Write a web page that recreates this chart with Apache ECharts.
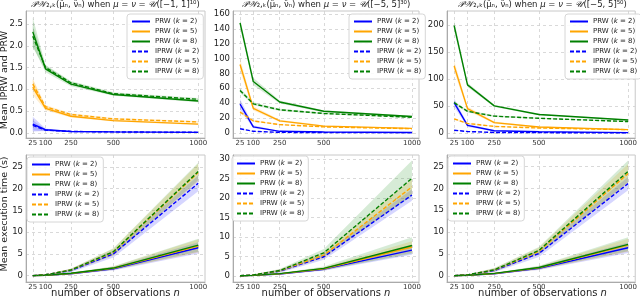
<!DOCTYPE html>
<html><head><meta charset="utf-8">
<script src="https://cdn.jsdelivr.net/npm/echarts@6/dist/echarts.min.js"></script>
<style>html,body{margin:0;padding:0;background:#fff}#c{width:640px;height:298px}</style>
</head><body><div id="c"></div>
<script>
// ---------- data ----------
const nObs = [25, 100, 250, 500, 1000];
const xTickVals = [25, 100, 250, 500, 1000];
const names = ['PRW (k = 2)', 'PRW (k = 5)', 'PRW (k = 8)', 'IPRW (k = 2)', 'IPRW (k = 5)', 'IPRW (k = 8)'];
const titles = ['[−1, 1]¹⁰', '[−5, 5]³⁰', '[−5, 5]⁵⁰'];

// panel 1: mean distance, U([-1,1]^10)
const p1_prw2 = [0.20, 0.07, 0.03, 0.02, 0.01];
const p1_prw5 = [1.05, 0.56, 0.38, 0.28, 0.20];
const p1_prw8 = [2.32, 1.47, 1.12, 0.88, 0.73];
const p1_iprw2 = [0.17, 0.06, 0.03, 0.02, 0.01];
const p1_iprw5 = [1.12, 0.60, 0.42, 0.32, 0.25];
const p1_iprw8 = [2.22, 1.50, 1.15, 0.90, 0.77];
const p1_prw2_sd = [0.17, 0.03, 0.01, 0.01, 0.005];
const p1_prw5_sd = [0.18, 0.05, 0.03, 0.02, 0.02];
const p1_prw8_sd = [0.33, 0.08, 0.05, 0.03, 0.03];
const p1_iprw2_sd = [0.12, 0.02, 0.01, 0.01, 0.005];
const p1_iprw5_sd = [0.12, 0.04, 0.03, 0.02, 0.02];
const p1_iprw8_sd = [0.25, 0.06, 0.04, 0.03, 0.03];

// panel 2: mean distance, U([-5,5]^30)
const p2_prw2 = [38.5, 8, 2, 1, 0.5];
const p2_prw5 = [92, 33, 16, 9, 6];
const p2_prw8 = [148, 69, 41.5, 29, 22];
const p2_iprw2 = [5.5, 2, 0.6, 0.3, 0.2];
const p2_iprw5 = [28, 16, 11, 8, 5.5];
const p2_iprw8 = [57, 39, 31, 26, 21];
const p2_prw2_sd = [7, 2, 0.5, 0.3, 0.2];
const p2_prw5_sd = [8, 3, 1.5, 1, 0.5];
const p2_prw8_sd = [6, 5, 2, 1.5, 1];
const p2_iprw2_sd = [1, 0.5, 0.2, 0.1, 0.1];
const p2_iprw5_sd = [2, 1, 0.7, 0.5, 0.4];
const p2_iprw8_sd = [3, 2, 1.5, 1, 1];

// panel 3: mean distance, U([-5,5]^50)
const p3_prw2 = [56, 14, 4, 2, 0.5];
const p3_prw5 = [124, 45, 19, 11, 6];
const p3_prw8 = [199, 89, 50, 34, 24];
const p3_iprw2 = [5, 2.5, 0.8, 0.4, 0.2];
const p3_iprw5 = [26, 17.5, 12, 9, 6];
const p3_iprw8 = [56, 40, 31, 27, 21];
const p3_prw2_sd = [8, 3, 1, 0.5, 0.2];
const p3_prw5_sd = [10, 4, 2, 1, 0.5];
const p3_prw8_sd = [10, 4, 2, 1.5, 1];
const p3_iprw2_sd = [1, 0.5, 0.2, 0.1, 0.1];
const p3_iprw5_sd = [2, 1, 0.7, 0.5, 0.4];
const p3_iprw8_sd = [3, 2, 1.5, 1, 1];

// panel 4: execution time (s), col 1
const p4_prw2 = [0.02, 0.1, 0.45, 1.6, 6.4];
const p4_prw5 = [0.02, 0.1, 0.5, 1.7, 6.8];
const p4_prw8 = [0.02, 0.1, 0.55, 1.75, 7.0];
const p4_iprw2 = [0.02, 0.2, 1.2, 5.0, 21.2];
const p4_iprw5 = [0.02, 0.2, 1.3, 5.4, 23.7];
const p4_iprw8 = [0.02, 0.2, 1.3, 5.5, 23.9];
const p4_prw2_sd = [0.01, 0.03, 0.1, 0.4, 1.3];
const p4_prw5_sd = [0.01, 0.03, 0.1, 0.4, 1.5];
const p4_prw8_sd = [0.01, 0.03, 0.1, 0.4, 1.5];
const p4_iprw2_sd = [0.01, 0.1, 0.4, 0.8, 1.8];
const p4_iprw5_sd = [0.01, 0.1, 0.3, 0.8, 2.0];
const p4_iprw8_sd = [0.01, 0.1, 0.3, 0.8, 2.0];

// panel 5: execution time (s), col 2
const p5_prw2 = [0.02, 0.1, 0.45, 1.7, 6.6];
const p5_prw5 = [0.02, 0.1, 0.5, 1.8, 7.4];
const p5_prw8 = [0.02, 0.1, 0.55, 1.9, 7.8];
const p5_iprw2 = [0.02, 0.2, 1.2, 4.9, 20.8];
const p5_iprw5 = [0.02, 0.2, 1.3, 5.3, 22.9];
const p5_iprw8 = [0.02, 0.2, 1.35, 5.9, 25.1];
const p5_prw2_sd = [0.01, 0.03, 0.1, 0.4, 1.2];
const p5_prw5_sd = [0.01, 0.03, 0.1, 0.4, 1.5];
const p5_prw8_sd = [0.01, 0.03, 0.1, 0.5, 2.1];
const p5_iprw2_sd = [0.01, 0.1, 0.4, 0.8, 1.5];
const p5_iprw5_sd = [0.01, 0.1, 0.4, 0.8, 2.0];
const p5_iprw8_sd = [0.01, 0.1, 0.4, 1.0, 4.6];

// panel 6: execution time (s), col 3
const p6_prw2 = [0.02, 0.1, 0.45, 1.7, 6.4];
const p6_prw5 = [0.02, 0.1, 0.5, 1.8, 7.0];
const p6_prw8 = [0.02, 0.1, 0.55, 1.9, 7.2];
const p6_iprw2 = [0.02, 0.2, 1.2, 5.1, 21.1];
const p6_iprw5 = [0.02, 0.2, 1.3, 5.6, 23.4];
const p6_iprw8 = [0.02, 0.2, 1.35, 5.8, 23.9];
const p6_prw2_sd = [0.01, 0.03, 0.1, 0.4, 1.2];
const p6_prw5_sd = [0.01, 0.03, 0.1, 0.4, 1.5];
const p6_prw8_sd = [0.01, 0.03, 0.1, 0.4, 1.6];
const p6_iprw2_sd = [0.01, 0.1, 0.4, 0.8, 1.5];
const p6_iprw5_sd = [0.01, 0.1, 0.4, 0.8, 2.2];
const p6_iprw8_sd = [0.01, 0.1, 0.4, 0.8, 2.5];

const yTicks1 = [0, 0.5, 1.0, 1.5, 2.0, 2.5];
const yTicks2 = [0, 20, 40, 60, 80, 100, 120, 140, 160];
const yTicks3 = [0, 50, 100, 150, 200];
const yTicks4 = [0, 5, 10, 15, 20, 25];
const yTicks5 = [0, 5, 10, 15, 20, 25, 30];
const yTicks6 = [0, 5, 10, 15, 20, 25];

// ---------- layout ----------
const FONT = 'DejaVu Sans';
const cols = [{left: 26, width: 179}, {left: 233, width: 186}, {left: 447, width: 191}];
const rows = [{top: 11, height: 127}, {top: 155, height: 127}];
const yRanges = [[-0.12, 2.8], [-7, 164], [-9.5, 226], [-1.45, 27.7], [-1.6, 31.1], [-1.43, 27.65]];
const yTickSets = [yTicks1, yTicks2, yTicks3, yTicks4, yTicks5, yTicks6];
const panels = [
  [p1_prw2, p1_prw5, p1_prw8, p1_iprw2, p1_iprw5, p1_iprw8, p1_prw2_sd, p1_prw5_sd, p1_prw8_sd, p1_iprw2_sd, p1_iprw5_sd, p1_iprw8_sd],
  [p2_prw2, p2_prw5, p2_prw8, p2_iprw2, p2_iprw5, p2_iprw8, p2_prw2_sd, p2_prw5_sd, p2_prw8_sd, p2_iprw2_sd, p2_iprw5_sd, p2_iprw8_sd],
  [p3_prw2, p3_prw5, p3_prw8, p3_iprw2, p3_iprw5, p3_iprw8, p3_prw2_sd, p3_prw5_sd, p3_prw8_sd, p3_iprw2_sd, p3_iprw5_sd, p3_iprw8_sd],
  [p4_prw2, p4_prw5, p4_prw8, p4_iprw2, p4_iprw5, p4_iprw8, p4_prw2_sd, p4_prw5_sd, p4_prw8_sd, p4_iprw2_sd, p4_iprw5_sd, p4_iprw8_sd],
  [p5_prw2, p5_prw5, p5_prw8, p5_iprw2, p5_iprw5, p5_iprw8, p5_prw2_sd, p5_prw5_sd, p5_prw8_sd, p5_iprw2_sd, p5_iprw5_sd, p5_iprw8_sd],
  [p6_prw2, p6_prw5, p6_prw8, p6_iprw2, p6_iprw5, p6_iprw8, p6_prw2_sd, p6_prw5_sd, p6_prw8_sd, p6_iprw2_sd, p6_iprw5_sd, p6_iprw8_sd]
];
const colors = ['#0000ff', '#ffa500', '#008000'];
const bandColors = ['rgba(0,0,255,0.16)', 'rgba(255,165,0,0.18)', 'rgba(0,128,0,0.16)'];
const legendPos = [
  {left: 127, top: 14}, {left: 349, top: 14}, {left: 565, top: 14},
  {left: 27, top: 157}, {left: 232, top: 156}, {left: 448, top: 156}
];

function fmtOneDecimal(v) { return Number(v).toFixed(1); }
function fmtPlain(v) { return String(Math.round(Number(v) * 100) / 100); }

const grids = [], xAxes = [], yAxes = [], series = [], legends = [];
for (let p = 0; p < 6; p++) {
  const c = cols[p % 3], r = rows[Math.floor(p / 3)];
  grids.push({left: c.left, top: r.top, width: c.width, height: r.height, show: true,
    borderColor: '#c8c8c8', borderWidth: 1, backgroundColor: 'transparent'});
  xAxes.push({type: 'value', gridIndex: p, min: -15, max: 1040,
    axisLine: {show: true, onZero: false, lineStyle: {color: '#aaa', width: 1}},
    axisTick: {show: false, customValues: xTickVals},
    splitLine: {show: true, lineStyle: {color: '#d0d0d0', type: [3, 3], width: 0.8}},
    axisLabel: {customValues: xTickVals, fontSize: 7, color: '#333', margin: 2, fontFamily: FONT,
      formatter: fmtPlain}});
  const yt = yTickSets[p];
  yAxes.push({type: 'value', gridIndex: p, min: yRanges[p][0], max: yRanges[p][1],
    axisLine: {show: true, onZero: false, lineStyle: {color: '#aaa', width: 1}},
    axisTick: {show: false, customValues: yt},
    splitLine: {show: true, lineStyle: {color: '#d0d0d0', type: [3, 3], width: 0.8}},
    axisLabel: {show: true, customValues: yt, fontSize: 8.5, color: '#222', margin: 3, fontFamily: FONT,
      formatter: p === 0 ? fmtOneDecimal : fmtPlain}});
  const d = panels[p];
  // shaded bands (mean ± spread), drawn through the axis scales
  for (let s = 0; s < 6; s++) {
    const mean = d[s], sd = d[s + 6], fill = bandColors[s % 3];
    series.push({type: 'custom', xAxisIndex: p, yAxisIndex: p, silent: true, z: 1, clip: true,
      data: [[nObs[0], mean[0]]],
      renderItem: (params, api) => {
        const up = nObs.map((x, i) => api.coord([x, mean[i] + sd[i]]));
        const lo = nObs.map((x, i) => api.coord([x, mean[i] - sd[i]])).reverse();
        return {type: 'polygon', shape: {points: up.concat(lo)}, style: {fill: fill, stroke: null}};
      }});
  }
  // mean lines
  for (let s = 0; s < 6; s++) {
    const col = colors[s % 3];
    const dashed = s >= 3;
    series.push({type: 'line', name: names[s], xAxisIndex: p, yAxisIndex: p,
      data: nObs.map((x, i) => [x, d[s][i]]), symbol: 'none', silent: true,
      lineStyle: {color: col, width: 1.4, type: dashed ? [4, 2] : 'solid'},
      itemStyle: {color: col}, z: dashed ? 4 : 3});
  }
  legends.push({orient: 'vertical', left: legendPos[p].left, top: legendPos[p].top,
    itemWidth: 18, itemHeight: 8, itemGap: 3, itemTextGap: 5, padding: [4, 4, 4, 4],
    backgroundColor: 'rgba(255,255,255,0.85)', borderColor: '#d6d6d6', borderWidth: 1, borderRadius: 3,
    data: names, selectedMode: false,
    itemStyle: {opacity: 0, borderWidth: 0},
    formatter: n => n.replace('k', '{i|k}'),
    textStyle: {fontSize: 7, fontFamily: FONT, color: '#222',
      rich: {i: {fontStyle: 'italic', fontSize: 7, fontFamily: FONT, color: '#222'}}}});
}

const graphics = [];
for (let c = 0; c < 3; c++) {
  graphics.push({type: 'text', x: cols[c].left + cols[c].width / 2, y: 5, z: 10,
    style: {text: '{s|𝒫𝒲}₂,ₖ(μ̂ₙ, ν̂ₙ) when {i|μ} = {i|ν} = {s|𝒰}(' + titles[c] + ')',
      rich: {i: {fontStyle: 'italic', fontSize: 8.5, fontFamily: FONT}, s: {fontSize: 8.5, fontFamily: 'DejaVu Serif', fontStyle: 'italic'}},
      fontSize: 8.5, fontFamily: FONT, fill: '#222', align: 'center', verticalAlign: 'middle'}});
  graphics.push({type: 'text', x: cols[c].left + cols[c].width / 2, y: 293, z: 10,
    style: {text: 'number of observations {i|n}', rich: {i: {fontStyle: 'italic', fontSize: 10, fontFamily: FONT}},
      fontSize: 10, fontFamily: FONT, fill: '#222', align: 'center', verticalAlign: 'middle'}});
}
graphics.push({type: 'text', x: 5, y: 80, rotation: Math.PI / 2, z: 10,
  style: {text: 'Mean IPRW and PRW', fontSize: 9.5, fontFamily: FONT, fill: '#222', align: 'center', verticalAlign: 'middle'}});
graphics.push({type: 'text', x: 5, y: 214, rotation: Math.PI / 2, z: 10,
  style: {text: 'Mean execution time (s)', fontSize: 9.5, fontFamily: FONT, fill: '#222', align: 'center', verticalAlign: 'middle'}});

const chart = echarts.init(document.getElementById('c'), null, {renderer: 'canvas'});
chart.setOption({
  animation: false,
  backgroundColor: '#fff',
  grid: grids, xAxis: xAxes, yAxis: yAxes, series: series, legend: legends, graphic: graphics
});
</script></body></html>
